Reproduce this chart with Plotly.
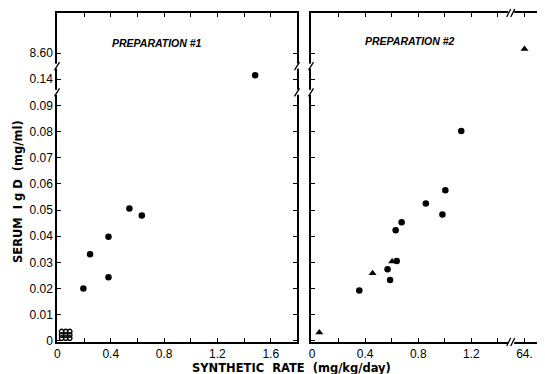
import plotly.graph_objects as go

# ---------------- data ----------------
# Preparation #1 (filled circles)
prep1_x = [0.195, 0.245, 0.383, 0.383, 0.54, 0.633, 1.483]
prep1_y = [0.0200, 0.0331, 0.0398, 0.0243, 0.0506, 0.0479, 0.142]
# Preparation #1 undetectable cluster near origin (open circles)
prep1_low_x = [0.032, 0.062, 0.092, 0.032, 0.062, 0.092, 0.032, 0.062, 0.092]
prep1_low_y = [0.0036, 0.0036, 0.0036, 0.0023, 0.0023, 0.0023, 0.0011, 0.0011, 0.0011]
# Preparation #2 (filled circles)
prep2_x = [0.356, 0.569, 0.588, 0.638, 0.630, 0.675, 0.857, 0.982, 1.004, 1.124]
prep2_y = [0.0193, 0.0274, 0.0233, 0.0305, 0.0423, 0.0454, 0.0525, 0.0483, 0.0576, 0.0802]
# Preparation #2 (filled triangles)
prep2_tri_x = [0.055, 0.456, 0.603, 64.0]
prep2_tri_y = [0.0032, 0.0259, 0.0304, 8.70]

y_tick_vals = [0, 0.01, 0.02, 0.03, 0.04, 0.05, 0.06, 0.07, 0.08, 0.09, 0.14, 8.60]
y_tick_text = ["0", "0.01", "0.02", "0.03", "0.04", "0.05", "0.06", "0.07", "0.08", "0.09", "0.14", "8.60"]
x1_tick_vals = [0, 0.4, 0.8, 1.2, 1.6]
x1_tick_text = ["0", "0.4", "0.8", "1.2", "1.6"]
x2_tick_vals = [0, 0.4, 0.8, 1.2, 64.0]
x2_tick_text = ["0", "0.4", "0.8", "1.2", "64."]


# ---------------- broken-axis scales ----------------
def ymap(v):
    if v <= 0.095:
        return v
    if v < 1:
        return 0.10 + (v - 0.14) * 0.75
    return 0.11 + (v - 8.60) * 0.015


def x2map(v):
    if v <= 1.5:
        return v
    return 1.6 + (v - 64.0) * 0.01


W, H = 545, 374
OX, OY = 8, 8  # page body margin offset
FONT = "Liberation Sans"


def px(xp):
    return (xp - OX) / W


def py(yp):
    return 1 - (yp - OY) / H


fig = go.Figure()

mk = dict(color="black", size=6.5, symbol="circle")
fig.add_trace(go.Scatter(x=prep1_x, y=[ymap(v) for v in prep1_y], mode="markers",
                         marker=mk, xaxis="x", yaxis="y", showlegend=False))
fig.add_trace(go.Scatter(x=prep1_low_x, y=[ymap(v) for v in prep1_low_y], mode="markers",
                         marker=dict(color="black", size=4.6, symbol="circle-open",
                                     line=dict(width=1.3, color="black")),
                         xaxis="x", yaxis="y", showlegend=False))
fig.add_trace(go.Scatter(x=[x2map(v) for v in prep2_x], y=[ymap(v) for v in prep2_y],
                         mode="markers", marker=mk, xaxis="x2", yaxis="y2", showlegend=False))
fig.add_trace(go.Scatter(x=[x2map(v) for v in prep2_tri_x], y=[ymap(v) for v in prep2_tri_y],
                         mode="markers", marker=dict(color="black", size=7, symbol="triangle-up"),
                         xaxis="x2", yaxis="y2", showlegend=False))

ydom = [py(342), py(13)]
yrange = [-0.0004, 0.1253]
common_axis = dict(showline=True, linecolor="black", linewidth=1.5, showgrid=False,
                   zeroline=False, ticks="inside", ticklen=4, tickwidth=1.2,
                   tickcolor="black", automargin=False,
                   tickfont=dict(family=FONT, size=12, color="black"))

x2_left, x2_right = 311, OX + W
fig.update_layout(
    width=W, height=H, margin=dict(l=0, r=0, t=0, b=0),
    paper_bgcolor="white", plot_bgcolor="white",
    xaxis=dict(common_axis, domain=[px(57), px(297)], range=[-0.003, 1.797],
               tickvals=x1_tick_vals, ticktext=x1_tick_text, mirror="ticks",
               minor=dict(dtick=0.2, tick0=0, ticks="inside", ticklen=4, tickwidth=1.2,
                          tickcolor="black"),
               anchor="y"),
    yaxis=dict(common_axis, domain=ydom, range=yrange,
               tickvals=[ymap(v) for v in y_tick_vals], ticktext=y_tick_text,
               mirror="ticks", anchor="x"),
    xaxis2=dict(common_axis, domain=[px(x2_left), 1.0],
                range=[(x2_left - 312) / 132.8, (x2_right - 312) / 132.8],
                tickvals=[x2map(v) for v in x2_tick_vals], ticktext=x2_tick_text,
                mirror="ticks",
                minor=dict(tickvals=[0.2, 0.6, 1.0, 1.4], ticks="inside", ticklen=4,
                           tickwidth=1.2, tickcolor="black"),
                anchor="y2"),
    yaxis2=dict(common_axis, domain=ydom, range=yrange,
                tickvals=[ymap(v) for v in y_tick_vals], showticklabels=False,
                anchor="x2"),
)

shapes = []


def ybreak(xref, xanchor, yref, yval):
    shapes.append(dict(type="rect", xref=xref, yref=yref, xsizemode="pixel",
                       ysizemode="pixel", xanchor=xanchor, yanchor=yval,
                       x0=-3, x1=3, y0=-2.5, y1=2.5, fillcolor="white",
                       line=dict(width=0), layer="above"))
    shapes.append(dict(type="line", xref=xref, yref=yref, xsizemode="pixel",
                       ysizemode="pixel", xanchor=xanchor, yanchor=yval,
                       x0=-2.5, x1=2.5, y0=-4, y1=4,
                       line=dict(color="black", width=1.3), layer="above"))


def xbreak(xref, xval, yref, yanchor):
    shapes.append(dict(type="rect", xref=xref, yref=yref, xsizemode="pixel",
                       ysizemode="pixel", xanchor=xval, yanchor=yanchor,
                       x0=-3, x1=3, y0=-3, y1=3, fillcolor="white",
                       line=dict(width=0), layer="above"))
    for off in (-3, 1):
        shapes.append(dict(type="line", xref=xref, yref=yref, xsizemode="pixel",
                           ysizemode="pixel", xanchor=xval, yanchor=yanchor,
                           x0=off - 1.5, x1=off + 2.5, y0=-4, y1=4,
                           line=dict(color="black", width=1.3), layer="above"))


for yb in (0.095, 0.105):
    ybreak("x domain", 0, "y", yb)
    ybreak("x domain", 1, "y", yb)
    ybreak("x2 domain", 0, "y2", yb)
xbreak("x2", 1.5, "y2 domain", 0)
xbreak("x2", 1.5, "y2 domain", 1)
fig.update_layout(shapes=shapes)

ann_font = dict(family="DejaVu Sans", size=11.5, color="black")
common_ann = dict(xref="paper", yref="paper", showarrow=False,
                  xanchor="center", yanchor="middle")
fig.add_annotation(common_ann, x=px(157), y=py(43), text="<b><i>PREPARATION #1</i></b>",
                   font=dict(family=FONT, size=10.5, color="black"))
fig.add_annotation(common_ann, x=px(410), y=py(41), text="<b><i>PREPARATION #2</i></b>",
                   font=dict(family=FONT, size=10.5, color="black"))
fig.add_annotation(common_ann, x=px(18), y=py(192),
                   text="<b>SERUM\u00a0\u00a0I g D\u00a0\u00a0(mg/ml)</b>", textangle=-90,
                   font=ann_font)
fig.add_annotation(common_ann, x=px(291), y=py(368),
                   text="<b>SYNTHETIC\u00a0\u00a0RATE\u00a0\u00a0(mg/kg/day)</b>",
                   font=ann_font)

fig.write_html("out.html")
